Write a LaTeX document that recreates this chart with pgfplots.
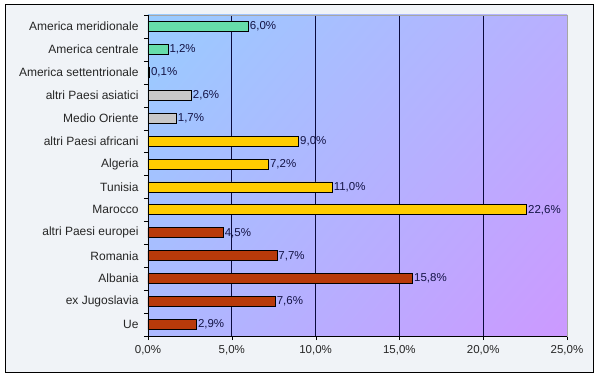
\documentclass[border=0pt]{standalone}
\usepackage{pgfplots}
\pgfplotsset{compat=1.18}
\usepackage{fontspec}
\setmainfont{Liberation Sans}
\usetikzlibrary{shadings}
\definecolor{bgframe}{RGB}{240,243,247}
\definecolor{amer}{RGB}{102,221,170}
\definecolor{asia}{RGB}{200,200,200}
\definecolor{afr}{RGB}{255,204,0}
\definecolor{eur}{RGB}{184,58,10}
\definecolor{gridc}{RGB}{10,10,60}
\definecolor{labc}{RGB}{20,20,70}
\definecolor{ul}{RGB}{153,204,255}
\definecolor{ur}{RGB}{185,175,255}
\definecolor{ll}{RGB}{172,185,255}
\definecolor{lr}{RGB}{204,153,255}
\begin{document}
\begin{tikzpicture}[x=1pt,y=1pt]
\useasboundingbox (0,0) rectangle (600,378);
\filldraw[fill=bgframe, draw=black, line width=1pt] (5,6) rectangle (593,373);
\begin{axis}[
  at={(148pt,42pt)}, anchor=south west,
  scale only axis, width=419pt, height=321pt,
  xbar, bar shift=0pt, bar width=10pt,
  xmin=0, xmax=25, ymin=-0.5, ymax=13.5,
  axis background/.style={shade, upper left=ul, upper right=ur, lower left=ll, lower right=lr},
  xtick={0,5,...,25},
  xtick pos=bottom, ytick pos=left,
  xmajorgrids, grid style={draw=gridc, line width=0.9pt},
  tick align=outside,
  major tick length=4pt, minor tick length=4pt,
  xtick style={draw=black},
  xticklabel={\pgfmathprintnumber[fixed,fixed zerofill,precision=1,use comma]{\tick}\%},
  /pgf/number format/assume math mode=true,
  xticklabel style={font=\fontsize{11.5}{13}\selectfont, text=black!85, yshift=-2pt},
  ytick={0,...,13},
  yticklabels={Ue, ex Jugoslavia, Albania, Romania, altri Paesi europei, Marocco, Tunisia, Algeria, altri Paesi africani, Medio Oriente, altri Paesi asiatici, America settentrionale, America centrale, America meridionale},
  major y tick style={draw=none},
  minor ytick={-0.5,0.5,...,13.5},
  minor y tick style={draw=black},
  yticklabel style={font=\fontsize{12}{14}\selectfont, text=black!85, xshift=-2pt},
  axis line style={draw=gray!70, line width=0.8pt},
  nodes near coords={\pgfmathprintnumber[fixed,fixed zerofill,precision=1,use comma]{\pgfplotspointmeta}\%},
  every node near coord/.append style={font=\fontsize{11.5}{13}\selectfont, text=labc, inner sep=1pt},
  clip=false,
]
\addplot[draw=black, fill=eur, line width=0.8pt] coordinates {(2.9,0) (7.6,1) (15.8,2) (7.7,3) (4.5,4)};
\addplot[draw=black, fill=afr, line width=0.8pt] coordinates {(22.6,5) (11.0,6) (7.2,7) (9.0,8)};
\addplot[draw=black, fill=asia, line width=0.8pt] coordinates {(1.7,9) (2.6,10)};
\addplot[draw=black, fill=amer, line width=0.8pt] coordinates {(0.1,11) (1.2,12) (6.0,13)};
\draw[black, line width=0.9pt] (rel axis cs:0,1) -- (rel axis cs:0,0) -- (rel axis cs:1,0);
\end{axis}
\end{tikzpicture}
\end{document}
